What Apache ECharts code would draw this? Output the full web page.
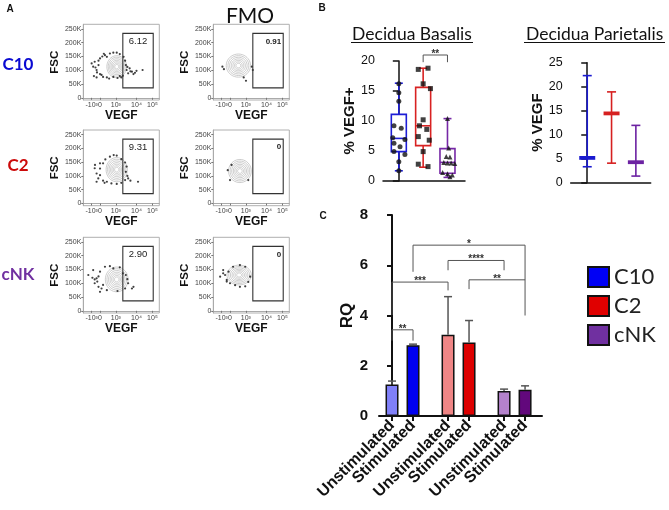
<!DOCTYPE html>
<html><head><meta charset="utf-8">
<script src="https://cdn.jsdelivr.net/npm/echarts@6/dist/echarts.min.js"></script>
<style>html,body{margin:0;padding:0;background:#fff}#c{width:669px;height:510px}</style>
</head><body><div id="c"></div>
<script>
// ---------------- Panel A : flow plots ----------------
const flowRows = ['C10', 'C2', 'cNK'];
const samplePct = ['6.12', '9.31', '2.90'];
const fmoPct = ['0.91', '0', '0'];
const vegfTickPos = [11, 22, 42.8, 70, 91];
const vegfTickText = ['-10³', '0', '10³', '10⁴', '10⁵'];
const fscTicks = [0, 50, 100, 150, 200, 250];
const gateBox = [52, 36, 92, 234];           // VEGF from, FSC(K) from, VEGF to, FSC(K) to
// contour outline: [VEGF centre, FSC(K) centre, half width, half height]
const contourSample = [[44, 113, 13, 40], [44, 123, 14, 44], [44, 114, 15, 45]];
const contourFmo = [[33, 117, 16, 42], [35, 118, 15, 42], [34, 130, 16, 36]];
const dotsC10 = [[11,125],[13,113],[15,131],[17.5,101],[20,119],[22,143],[24,83],[26,76],[28.5,155],[31,149],[35,161],[39.5,164],[44,164],[48,159],[53,149],[55,135],[56,119],[57,101],[59,89],[61,107],[64,95],[66,86],[68,91],[70,98],[78,101],[22,86],[31,74],[39.5,76],[48,79],[17.5,74],[14,79],[50,74],[18,92],[16,110],[27,160],[34,70],[45,72],[58,112],[62,96],[52,80],[25,150],[20,135]];
const dotsC2 = [[15.4,140],[17.5,109],[19.7,91],[22,127],[26,83],[31,79],[37,73],[44,71],[50,75],[55,85],[59,91],[62,83],[72,79],[57,134],[56,115],[22,103],[17.5,79],[26,146],[22,146],[35,170],[44,174],[50,161],[55,149],[15,128],[29,160],[40,176],[58,100],[28,75]];
const dotsNK = [[6.6,130],[13,148],[15,100],[17.5,118],[20,87],[22,142],[24,81],[28.5,160],[35,162],[39.5,154],[52,136],[56,130],[59,100],[64,81],[66,87],[55,81],[31,75],[22,69],[18.4,106],[15,114],[26,94],[48,158],[20,125],[45,72],[58,115],[12,120]];
const dotsFmoC10 = [[12,113],[14,104],[50.7,113],[52,101],[40,74],[43,62]];
const dotsFmoC2 = [[19,121],[22,85],[24,140],[46,85]];
const dotsFmoNK = [[9,124],[13,136],[13,148],[15.5,130],[17.7,112],[17.7,106],[20,142],[22,100],[26,160],[28.7,93],[35,87],[35,166],[42,89],[42,160],[46,105],[48.5,124]];

// ---------------- Panel B ----------------
const bGroups = ['C10', 'C2', 'cNK'];
// Decidua basalis box: [min, Q1, median, Q3, max]
const basalisBox = [[1.7, 4.9, 7.1, 11.1, 16.3], [2.3, 5.9, 9.2, 15.6, 18.8], [0.6, 1.3, 3.1, 5.4, 10.4]];
// points: [horizontal jitter, %VEGF+]
const basalisC10 = [[0,16.2],[0,14.7],[0,13.3],[-0.2,9.2],[0.1,8.8],[-0.25,7.2],[0.25,6.9],[-0.2,6.3],[0.05,5.7],[-0.2,4.9],[0.25,4.4],[0,3.2],[0,1.7]];
const basalisC2 = [[-0.2,18.6],[0.2,18.8],[0,16.2],[0.3,15.4],[0,10.2],[-0.15,9.2],[0.15,8.6],[-0.2,7.4],[0.25,6.8],[0,4.9],[-0.2,2.8],[0.2,2.4]];
const basalisNK = [[0,10.4],[0.05,5.5],[-0.05,4.1],[0.1,4.0],[-0.15,3.1],[0,3.0],[0.15,3.0],[0.3,2.9],[-0.2,1.4],[0,1.2],[0.2,1.0],[0.1,0.7]];
const basalisBracket = [[1, 2, 21, 19.8, 19.8]];
const basalisStars = ['**'];
// Decidua parietalis: [min, median, max]
const parietalis = [[3.25, 5.1, 22.3], [4.0, 14.4, 18.9], [1.3, 4.2, 11.9]];

// ---------------- Panel C ----------------
const cGroups = ['C10', 'C2', 'cNK'];
const cConds = ['Unstimulated', 'Stimulated'];
const rqMean = [[1.25, 2.82], [3.23, 2.93], [1.0, 1.04]];
const rqErrTop = [[1.39, 2.86], [4.75, 3.8], [1.07, 1.2]];
// [bar a, bar b, top, foot a, foot b]  (bars numbered 0..5 left to right)
const rqBrackets = [[0,1,3.43,3.0,3.0],[0,2,5.33,4.02,5.0],[1,5,6.8,5.74,4.0],[2,4,6.19,5.8,5.8],[3,5,5.42,5.05,5.42]];
const rqStars = ['**', '***', '*', '****', '**'];

// ================= build =================
const ARIAL = 'Arial, "Liberation Sans", "DejaVu Sans", sans-serif';
const CAL = 'Lato, "Open Sans", sans-serif';
const grids = [], xAxes = [], yAxes = [], series = [];

const flowTops = [24.3, 130, 237.3], flowLefts = [83.3, 213.3];
const sampleDots = [dotsC10, dotsC2, dotsNK], fmoDots = [dotsFmoC10, dotsFmoC2, dotsFmoNK];

function nearest(pos, labels) {
  return v => { let k = 0; for (let i = 1; i < pos.length; i++) if (Math.abs(pos[i] - v) < Math.abs(pos[k] - v)) k = i; return labels[k]; };
}
function contourItem(params, api) {
  const c = api.coord([api.value(0), api.value(1)]);
  const s = api.size([api.value(2), api.value(3)]);
  const levels = [1, 0.86, 0.72, 0.58, 0.45, 0.32, 0.2];
  return { type: 'group', children: levels.map(l => {
    const pts = [];
    for (let k = 0; k < 40; k++) { const a = k / 40 * Math.PI * 2; pts.push([c[0] + Math.cos(a) * s[0] * l, c[1] + Math.sin(a) * s[1] * l]); }
    return { type: 'polygon', shape: { points: pts }, style: { fill: 'none', stroke: '#b8b8b8', lineWidth: 0.7 } };
  }) };
}
function gateItem(label, fmo) {
  return (params, api) => {
    const p0 = api.coord([api.value(0), api.value(3)]);
    const p1 = api.coord([api.value(2), api.value(1)]);
    return { type: 'group', children: [
      { type: 'rect', shape: { x: p0[0], y: p0[1], width: p1[0] - p0[0], height: p1[1] - p0[1] }, style: { fill: 'none', stroke: '#333', lineWidth: 1.1 } },
      { type: 'text', x: fmo ? p1[0] - 2 : (p0[0] + p1[0]) / 2, y: p0[1] + (fmo ? 4 : 3),
        style: { text: label, align: fmo ? 'right' : 'center', verticalAlign: 'top', fill: '#222', font: (fmo ? 'bold 8px ' : '9.5px ') + ARIAL } }
    ] };
  };
}

let gi = 0;
for (let r = 0; r < 3; r++) {
  for (let c = 0; c < 2; c++) {
    grids.push({ left: flowLefts[c], top: flowTops[r], width: 76, height: 75.7, show: true, borderColor: '#b0b0b0', borderWidth: 1, outerBoundsMode: 'none' });
    xAxes.push({ gridIndex: gi, type: 'value', min: 0, max: 100, splitLine: { show: false },
      axisLine: { show: true, lineStyle: { color: '#aaa' } },
      axisTick: { show: true, length: 2, lineStyle: { color: '#777' }, customValues: vegfTickPos },
      axisLabel: { customValues: vegfTickPos, formatter: nearest(vegfTickPos, vegfTickText), fontSize: 7, color: '#444', margin: 2, fontFamily: ARIAL },
      name: 'VEGF', nameLocation: 'middle', nameGap: 9, nameTextStyle: { fontWeight: 'bold', fontSize: 12, color: '#111', fontFamily: ARIAL } });
    yAxes.push({ gridIndex: gi, type: 'value', min: -8, max: 267, splitLine: { show: false },
      axisLine: { show: true, lineStyle: { color: '#aaa' } },
      axisTick: { show: true, length: 2, lineStyle: { color: '#777' }, customValues: fscTicks },
      axisLabel: { customValues: fscTicks, formatter: v => v === 0 ? '0' : v + 'K', fontSize: 7, color: '#444', margin: 2, fontFamily: ARIAL },
      name: 'FSC', nameLocation: 'middle', nameGap: 21, nameTextStyle: { fontWeight: 'bold', fontSize: 11.5, color: '#111', fontFamily: ARIAL } });
    const fmo = c === 1;
    series.push({ name: 'contour' + gi, type: 'custom', xAxisIndex: gi, yAxisIndex: gi, silent: true, z: 1,
      data: [fmo ? contourFmo[r] : contourSample[r]], encode: { x: 0, y: 1 }, renderItem: contourItem });
    series.push({ name: 'dots' + gi, type: 'scatter', xAxisIndex: gi, yAxisIndex: gi, silent: true, z: 2,
      data: fmo ? fmoDots[r] : sampleDots[r], symbolSize: 2.2, itemStyle: { color: '#111' } });
    series.push({ name: 'gate' + gi, type: 'custom', xAxisIndex: gi, yAxisIndex: gi, silent: true, z: 3,
      data: [gateBox], encode: { x: [0, 2], y: [1, 3] }, renderItem: gateItem(fmo ? fmoPct[r] : samplePct[r], fmo) });
    gi++;
  }
}

// ---- Panel B left (grid 6)
const bColors = ['#1d1dd6', '#d82222', '#7628a6'];
grids.push({ left: 383, top: 61, width: 82, height: 120, outerBoundsMode: 'none' });
xAxes.push({ gridIndex: 6, type: 'value', min: -0.65, max: 2.72, splitLine: { show: false },
  axisLine: { show: true, lineStyle: { color: '#111', width: 1.5 } }, axisTick: { show: false }, axisLabel: { show: false } });
yAxes.push({ gridIndex: 6, type: 'value', min: 0, max: 20, interval: 5, splitLine: { show: false },
  axisLine: { show: true, lineStyle: { color: '#111', width: 1.5 } }, axisTick: { show: true, length: 6, lineStyle: { width: 1.5, color: '#111' } },
  axisLabel: { fontSize: 12.5, color: '#111', margin: 8, fontFamily: ARIAL },
  name: '% VEGF+', nameLocation: 'middle', nameGap: 23, nameTextStyle: { fontWeight: 'bold', fontSize: 15, color: '#111', fontFamily: ARIAL } });
series.push({ name: 'basalisBox', type: 'custom', xAxisIndex: 6, yAxisIndex: 6, z: 2, silent: true,
  data: basalisBox.map((b, i) => [i].concat(b)), encode: { x: 0, y: [1, 2, 3, 4, 5] },
  renderItem: (params, api) => {
    const i = api.value(0), col = bColors[params.dataIndex];
    const x = api.coord([i, 0])[0];
    const y = [1, 2, 3, 4, 5].map(d => api.coord([i, api.value(d)])[1]);
    const hw = 7.5, cw = 4, st = { stroke: col, lineWidth: 1.6 };
    return { type: 'group', children: [
      { type: 'line', shape: { x1: x, y1: y[0], x2: x, y2: y[1] }, style: st },
      { type: 'line', shape: { x1: x, y1: y[3], x2: x, y2: y[4] }, style: st },
      { type: 'line', shape: { x1: x - cw, y1: y[0], x2: x + cw, y2: y[0] }, style: st },
      { type: 'line', shape: { x1: x - cw, y1: y[4], x2: x + cw, y2: y[4] }, style: st },
      { type: 'rect', shape: { x: x - hw, y: y[3], width: 2 * hw, height: y[1] - y[3] }, style: { fill: '#fff', stroke: col, lineWidth: 1.6 } },
      { type: 'line', shape: { x1: x - hw, y1: y[2], x2: x + hw, y2: y[2] }, style: st }
    ] };
  } });
const bPts = [basalisC10, basalisC2, basalisNK], bSyms = ['circle', 'rect', 'triangle'];
bPts.forEach((pts, i) => series.push({ name: 'pts' + bGroups[i], type: 'scatter', xAxisIndex: 6, yAxisIndex: 6, z: 4, silent: true,
  data: pts.map(p => [i + p[0], p[1]]), symbol: bSyms[i], symbolSize: 5, itemStyle: { color: '#111' } }));

function bracketItem(stars, xOf) {
  return (params, api) => {
    const xa = xOf(api.value(0)), xb = xOf(api.value(1));
    const a0 = api.coord([xa, api.value(3)]), at = api.coord([xa, api.value(2)]);
    const bt = api.coord([xb, api.value(2)]), b0 = api.coord([xb, api.value(4)]);
    return { type: 'group', children: [
      { type: 'polyline', shape: { points: [a0, at, bt, b0] }, style: { stroke: '#555', lineWidth: 1, fill: 'none' } },
      { type: 'text', x: (at[0] + bt[0]) / 2, y: at[1] - 1, style: { text: stars[params.dataIndex], align: 'center', verticalAlign: 'middle', fill: '#333', font: 'bold 10px ' + ARIAL } }
    ] };
  };
}
series.push({ name: 'basalisSig', type: 'custom', xAxisIndex: 6, yAxisIndex: 6, z: 5, silent: true, clip: false,
  data: basalisBracket, encode: { x: [0, 1], y: [2, 3, 4] }, renderItem: bracketItem(basalisStars, v => v) });

// ---- Panel B right (grid 7)
const pColors = ['#1a1ad0', '#d62020', '#6c22a2'];
grids.push({ left: 570.7, top: 62.7, width: 80, height: 119.6, outerBoundsMode: 'none' });
xAxes.push({ gridIndex: 7, type: 'value', min: -0.68, max: 2.61, splitLine: { show: false },
  axisLine: { show: true, lineStyle: { color: '#111', width: 1.5 } }, axisTick: { show: false }, axisLabel: { show: false } });
yAxes.push({ gridIndex: 7, type: 'value', min: 0, max: 25, interval: 5, splitLine: { show: false },
  axisLine: { show: true, lineStyle: { color: '#111', width: 1.5 } }, axisTick: { show: true, length: 6, lineStyle: { width: 1.5, color: '#111' } },
  axisLabel: { fontSize: 12.5, color: '#111', margin: 8, fontFamily: ARIAL },
  name: '% VEGF', nameLocation: 'middle', nameGap: 23, nameTextStyle: { fontWeight: 'bold', fontSize: 15, color: '#111', fontFamily: ARIAL } });
series.push({ name: 'parietalis', type: 'custom', xAxisIndex: 7, yAxisIndex: 7, z: 2, silent: true,
  data: parietalis.map((b, i) => [i].concat(b)), encode: { x: 0, y: [1, 2, 3] },
  renderItem: (params, api) => {
    const i = api.value(0), col = pColors[params.dataIndex];
    const x = api.coord([i, 0])[0];
    const y = [1, 2, 3].map(d => api.coord([i, api.value(d)])[1]);
    const st = { stroke: col, lineWidth: 1.6 };
    return { type: 'group', children: [
      { type: 'line', shape: { x1: x, y1: y[0], x2: x, y2: y[2] }, style: st },
      { type: 'line', shape: { x1: x - 4.5, y1: y[0], x2: x + 4.5, y2: y[0] }, style: st },
      { type: 'line', shape: { x1: x - 4.5, y1: y[2], x2: x + 4.5, y2: y[2] }, style: st },
      { type: 'line', shape: { x1: x - 8, y1: y[1], x2: x + 8, y2: y[1] }, style: { stroke: col, lineWidth: 3.8 } }
    ] };
  } });

// ---- Panel C (grid 8; x axes 8 = unstimulated labels, 9 = stimulated labels)
const groupStep = 8 / 3;
const barX = [];
cGroups.forEach((g, gI) => cConds.forEach((c, cI) => barX.push(gI * groupStep + cI)));
const condX = cConds.map((c, cI) => barX.filter((v, k) => k % 2 === cI));
const barColors = [['#8080f8', '#0000f0'], ['#f08686', '#dd0000'], ['#b482cc', '#62087c']];
const seriesColors = ['#0000f5', '#e00000', '#7030a0'];
grids.push({ left: 379, top: 215, width: 163, height: 201, outerBoundsMode: 'none' });
const cLabelStyle = { rotate: 45, fontSize: 16, fontWeight: 'bold', color: '#111', margin: 7, fontFamily: ARIAL, hideOverlap: false, showMinLabel: true, showMaxLabel: true };
xAxes.push({ gridIndex: 8, type: 'value', position: 'bottom', min: -0.62, max: 7.14, splitLine: { show: false },
  axisLine: { show: true, lineStyle: { color: '#111', width: 2 } },
  axisTick: { show: true, length: 5, lineStyle: { color: '#111', width: 2 }, customValues: barX },
  axisLabel: Object.assign({ customValues: condX[0], formatter: () => cConds[0] }, cLabelStyle) });
yAxes.push({ gridIndex: 8, type: 'value', min: 0, max: 8, interval: 2, splitLine: { show: false },
  axisLine: { show: true, lineStyle: { color: '#111', width: 2 } }, axisTick: { show: true, length: 5, lineStyle: { width: 2, color: '#111' } },
  axisLabel: { fontSize: 15, fontWeight: 'bold', color: '#111', margin: 11, fontFamily: ARIAL },
  name: 'RQ', nameLocation: 'middle', nameGap: 21, nameTextStyle: { fontWeight: 'bold', fontSize: 17, color: '#111', fontFamily: ARIAL } });
xAxes.push({ gridIndex: 8, type: 'value', position: 'bottom', offset: 0, min: -0.62, max: 7.14, splitLine: { show: false },
  axisLine: { show: false }, axisTick: { show: false },
  axisLabel: Object.assign({ customValues: condX[1], formatter: () => cConds[1] }, cLabelStyle) });
cGroups.forEach((g, gI) => series.push({ name: g, type: 'bar', xAxisIndex: 8, yAxisIndex: 8, barWidth: 13, barGap: '-100%', z: 2,
  itemStyle: { color: seriesColors[gI], borderColor: '#111', borderWidth: 1.5 },
  data: cConds.map((c, cI) => ({ value: [barX[gI * 2 + cI], rqMean[gI][cI]], itemStyle: { color: barColors[gI][cI] } })) }));
const errData = [];
cGroups.forEach((g, gI) => cConds.forEach((c, cI) => errData.push([barX[gI * 2 + cI], rqMean[gI][cI], rqErrTop[gI][cI]])));
series.push({ name: 'rqErr', type: 'custom', xAxisIndex: 8, yAxisIndex: 8, z: 3, silent: true,
  data: errData, encode: { x: 0, y: [1, 2] },
  renderItem: (params, api) => {
    const a = api.coord([api.value(0), api.value(1)]), b = api.coord([api.value(0), api.value(2)]);
    const st = { stroke: '#555', lineWidth: 1.5 };
    return { type: 'group', children: [
      { type: 'line', shape: { x1: a[0], y1: a[1], x2: b[0], y2: b[1] }, style: st },
      { type: 'line', shape: { x1: b[0] - 4, y1: b[1], x2: b[0] + 4, y2: b[1] }, style: st }
    ] };
  } });
series.push({ name: 'rqSig', type: 'custom', xAxisIndex: 8, yAxisIndex: 8, z: 4, silent: true,
  data: rqBrackets, encode: { x: [0, 1], y: [2, 3, 4] }, renderItem: bracketItem(rqStars, v => barX[v]) });

// ---- free text
const rowColors = ['#0a0ad2', '#cc0a0a', '#7030a0'];
const rowY = [65, 166, 275];
const graphics = [
  { type: 'text', x: 10, y: 9, style: { text: 'A', font: 'bold 10px ' + ARIAL, fill: '#111', align: 'center', verticalAlign: 'middle' } },
  { type: 'text', x: 322, y: 8, style: { text: 'B', font: 'bold 10px ' + ARIAL, fill: '#111', align: 'center', verticalAlign: 'middle' } },
  { type: 'text', x: 323, y: 216, style: { text: 'C', font: 'bold 10px ' + ARIAL, fill: '#111', align: 'center', verticalAlign: 'middle' } },
  { type: 'text', x: 250, y: 16, style: { text: 'FMO', font: '21px ' + CAL, fill: '#111', align: 'center', verticalAlign: 'middle' } },
  { type: 'text', x: 412, y: 34, style: { text: 'Decidua Basalis', font: '17.5px ' + CAL, fill: '#111', align: 'center', verticalAlign: 'middle' } },
  { type: 'text', x: 594.6, y: 34, style: { text: 'Decidua Parietalis', font: '17.5px ' + CAL, fill: '#111', align: 'center', verticalAlign: 'middle' } },
  { type: 'line', shape: { x1: 351, y1: 42.5, x2: 473, y2: 42.5 }, style: { stroke: '#111', lineWidth: 1 } },
  { type: 'line', shape: { x1: 524, y1: 42.5, x2: 665, y2: 42.5 }, style: { stroke: '#111', lineWidth: 1 } }
];
flowRows.forEach((t, i) => graphics.push({ type: 'text', x: 18, y: rowY[i], style: { text: t, font: 'bold 17px ' + CAL, fill: rowColors[i], align: 'center', verticalAlign: 'middle' } }));

const option = {
  backgroundColor: '#fff',
  animation: false,
  grid: grids, xAxis: xAxes, yAxis: yAxes, series: series,
  legend: { data: cGroups, orient: 'vertical', left: 587, top: 266, padding: 0, itemWidth: 21, itemHeight: 20, itemGap: 7, icon: 'rect',
    textStyle: { fontFamily: CAL, fontSize: 22, color: '#222' } },
  graphic: graphics
};
const chart = echarts.init(document.getElementById('c'));
chart.setOption(option);
</script></body></html>
